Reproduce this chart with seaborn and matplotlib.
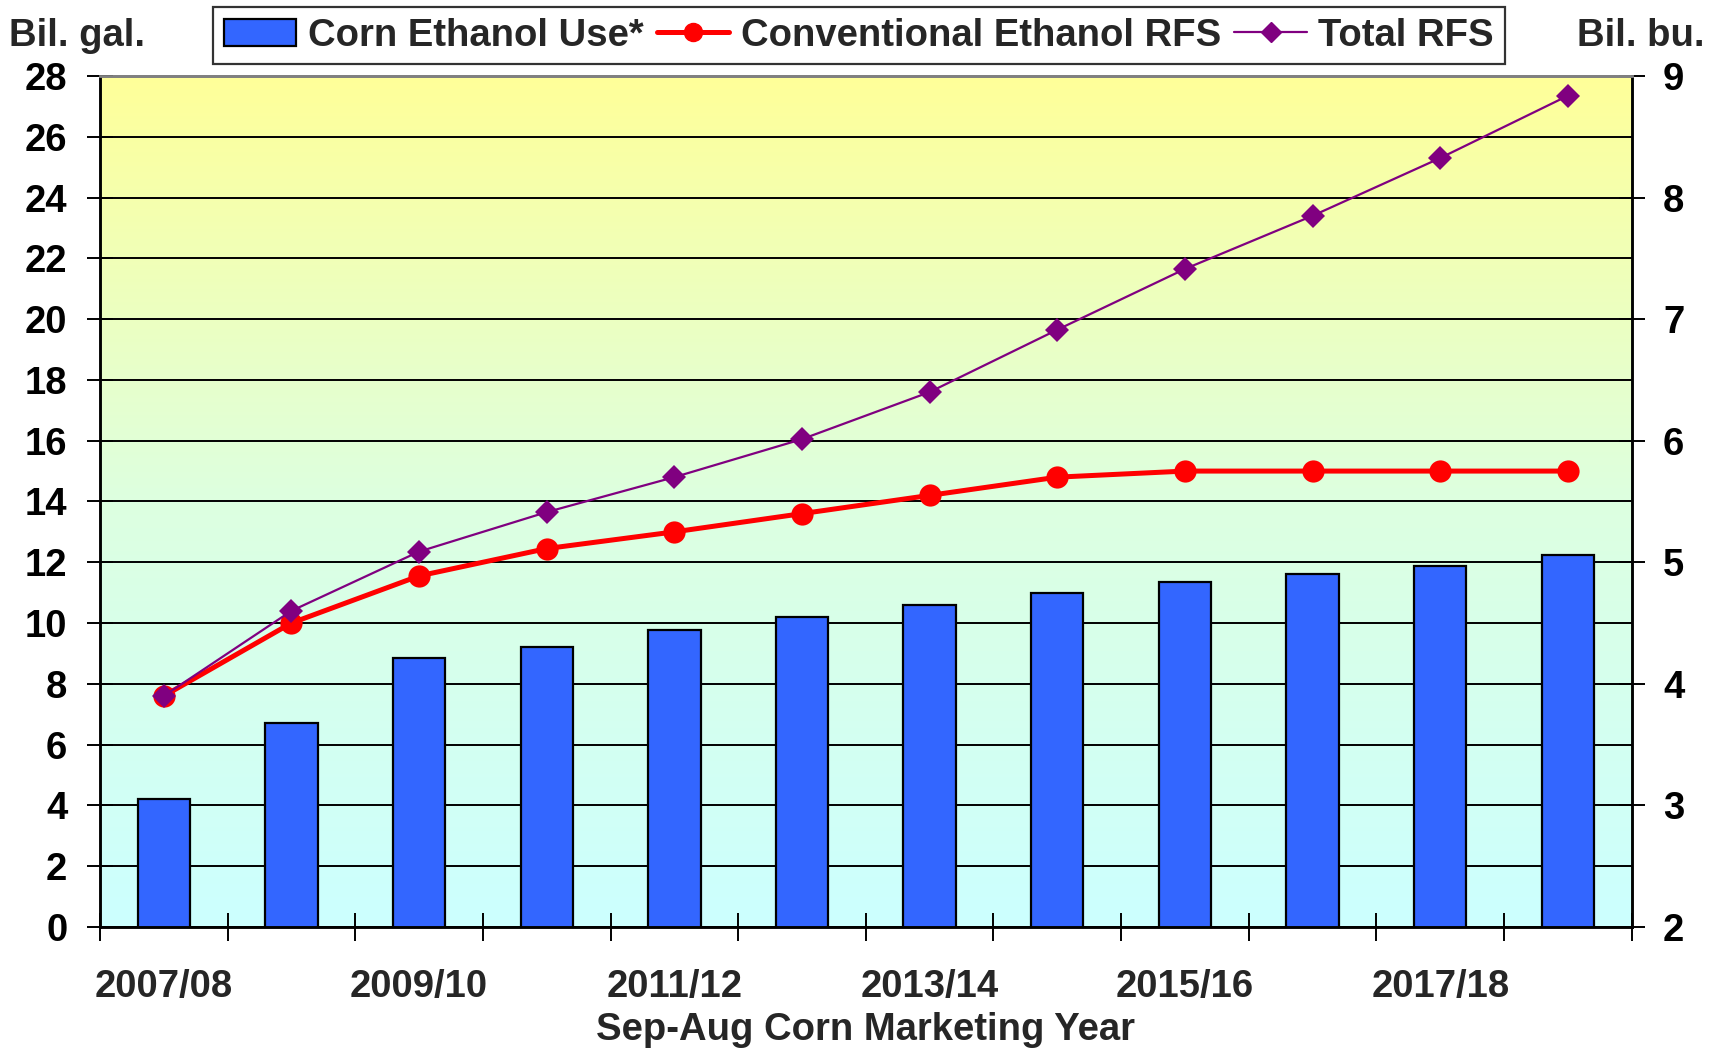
import numpy as np
import matplotlib

matplotlib.use("Agg")
import matplotlib.pyplot as plt
from matplotlib.patches import Patch
from matplotlib.lines import Line2D
from matplotlib.colors import LinearSegmentedColormap
import seaborn as sns

# Sep-Aug corn marketing years
years = ["2007/08", "2008/09", "2009/10", "2010/11", "2011/12", "2012/13",
         "2013/14", "2014/15", "2015/16", "2016/17", "2017/18", "2018/19"]
# corn used for ethanol, bil. bu. (right axis)
corn_use_bu = [3.05, 3.68, 4.21, 4.30, 4.44, 4.55, 4.65, 4.75, 4.84, 4.90, 4.97, 5.06]
# RFS mandates, bil. gal. (left axis)
conv_rfs = [7.6, 10.0, 11.55, 12.45, 13.0, 13.6, 14.2, 14.8, 15.0, 15.0, 15.0, 15.0]
total_rfs = [7.6, 10.4, 12.35, 13.65, 14.8, 16.05, 17.6, 19.65, 21.65, 23.4, 25.3, 27.35]
label_years = years[::2]

sns.set_theme(style="white")
plt.rcParams["font.family"] = ["Liberation Sans", "DejaVu Sans"]
plt.rcParams["font.weight"] = "bold"
FS = 27.5

fig = plt.figure(figsize=(17.23, 10.48), dpi=100)
ax = fig.add_axes([0.058, 0.1155, 0.889, 0.812])
pos = np.arange(len(years))

# yellow -> light cyan background
cmap = LinearSegmentedColormap.from_list("bg", ["#CCFFFF", "#DDFFE0", "#FFFF99"])
ax.imshow(np.linspace(0, 1, 256).reshape(-1, 1), cmap=cmap, origin="lower",
          extent=(-0.5, len(years) - 0.5, 2, 9), aspect="auto", zorder=0)

# bars live on the bushel axis (right side)
sns.barplot(x=years, y=corn_use_bu, color="#3366FF", saturation=1, width=0.41,
            edgecolor="black", linewidth=1.6, ax=ax, zorder=2)
ax.set_xlim(-0.5, len(years) - 0.5)
ax.set_ylim(2, 9)
ax.set_axisbelow(True)
ax.set_yticks(np.arange(2, 10, 1))
ax.set_yticks(np.arange(2, 9.01, 0.5), minor=True)
ax.grid(True, which="both", axis="y", color="black", linewidth=1.4)
ax.grid(False, axis="x")

# x ticks at the category boundaries, labels on every other year
ax.set_xticks(np.arange(-0.5, len(years), 1))
ax.set_xticklabels([])
ax.set_xticks(pos[::2], minor=True)
ax.set_xticklabels(label_years, minor=True)
ax.tick_params(axis="x", which="major", direction="inout", length=20, width=1.4,
               bottom=True, colors="black")
ax.tick_params(axis="x", which="minor", length=0, pad=30, labelsize=FS)
ax.set_xlabel("Sep-Aug Corn Marketing Year", fontsize=FS, fontweight="bold",
              labelpad=5)
ax.set_ylabel("")

# RFS lines on the gallon axis (left side)
ax2 = ax.twinx()
sns.lineplot(x=pos, y=conv_rfs, ax=ax2, color="#FF0000", linewidth=3.6,
             marker="o", markersize=16, markeredgewidth=0, zorder=3)
sns.lineplot(x=pos, y=total_rfs, ax=ax2, color="#800080", linewidth=1.6,
             marker="D", markersize=12, markeredgewidth=0, zorder=4)
ax2.set_ylim(0, 28)
ax2.set_yticks(np.arange(0, 29, 2))
ax2.grid(False)

# twinx moves the host ticks to the left, so swap sides afterwards
ax.yaxis.tick_right()
ax.tick_params(axis="y", which="major", direction="inout", length=19, width=1.4,
               pad=13, labelsize=FS, colors="black",
               right=True, left=False, labelright=True, labelleft=False)
ax.tick_params(axis="y", which="minor", length=0, right=False, left=False)
ax2.yaxis.tick_left()
ax2.tick_params(axis="y", direction="inout", length=19, width=1.4, pad=14,
                labelsize=FS, colors="black",
                left=True, right=False, labelleft=True, labelright=False)

for a in (ax, ax2):
    for side in ("left", "right", "bottom"):
        a.spines[side].set_color("black")
        a.spines[side].set_linewidth(1.8)
    a.spines["top"].set_color("#808080")
    a.spines["top"].set_linewidth(2)

fig.text(0.005, 0.966, "Bil. gal.", fontsize=FS, fontweight="bold",
         ha="left", va="center")
fig.text(0.989, 0.966, "Bil. bu.", fontsize=FS, fontweight="bold",
         ha="right", va="center")

handles = [
    Patch(facecolor="#3366FF", edgecolor="black", linewidth=1.6),
    Line2D([], [], color="#FF0000", linewidth=3.6, marker="o", markersize=13),
    Line2D([], [], color="#800080", linewidth=1.6, marker="D", markersize=10),
]
leg = fig.legend(handles, ["Corn Ethanol Use*", "Conventional Ethanol RFS", "Total RFS"],
                 loc="center", bbox_to_anchor=(0.4985, 0.966), ncol=3,
                 fontsize=FS, frameon=True, fancybox=False, borderpad=0.28,
                 handlelength=1.9, handletextpad=0.3, columnspacing=0.35,
                 borderaxespad=0)
leg.get_frame().set_edgecolor("black")
leg.get_frame().set_linewidth(1.6)
for t in leg.get_texts():
    t.set_fontweight("bold")

fig.savefig("out.png", dpi=100, facecolor="white")
